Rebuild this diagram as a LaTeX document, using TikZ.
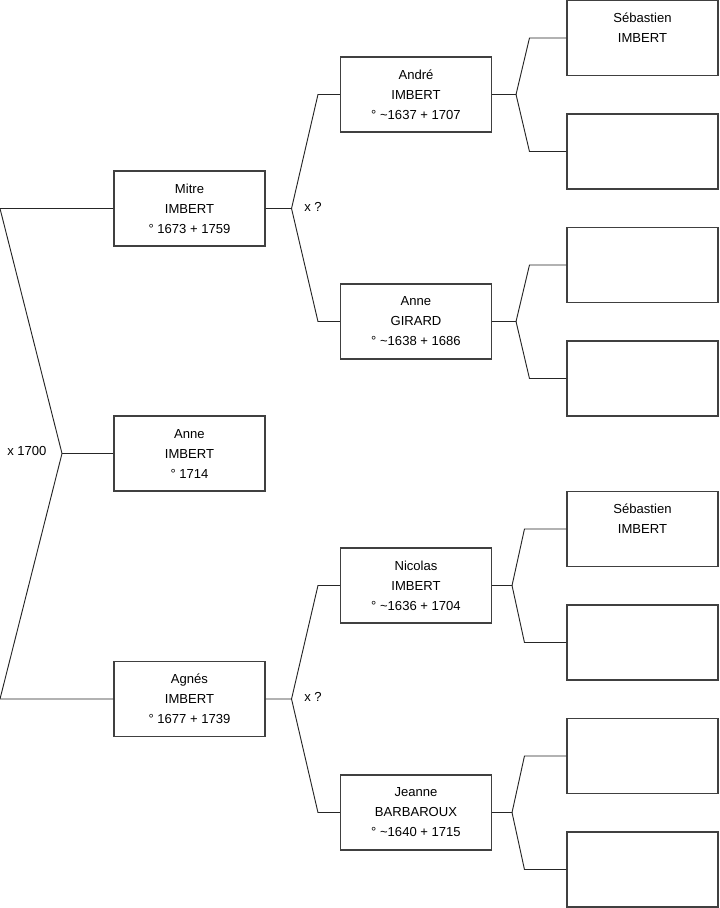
\documentclass[tikz,border=0pt]{standalone}
\usepackage{fontspec}
\setmainfont{Liberation Sans}
\usetikzlibrary{calc}
\begin{document}
\begin{tikzpicture}[x=0.75pt,y=-0.75pt,
  person/.style={draw=black!75,line width=0.8pt,minimum width=113.25pt,minimum height=56.25pt,
    inner sep=0pt,align=center,font=\fontsize{9.8}{15}\selectfont,text=black},
  link/.style={draw=black!85,line width=0.7pt},
  lab/.style={font=\fontsize{9.8}{11}\selectfont,text=black,inner sep=0pt,anchor=west}]
\useasboundingbox (0,0) rectangle (719,908);
% generation 1
\node[person] (mitre) at (189.5,208.5) {Mitre\\IMBERT\\° 1673 + 1759};
\node[person] (anne) at (189.5,453.5) {Anne\\IMBERT\\° 1714};
\node[person] (agnes) at (189.5,699) {Agnés\\IMBERT\\° 1677 + 1739};
% generation 2
\node[person] (andre) at (416,94.5) {André\\IMBERT\\° \textasciitilde1637 + 1707};
\node[person] (girard) at (416,321.5) {Anne\\GIRARD\\° \textasciitilde1638 + 1686};
\node[person] (nicolas) at (416,585.5) {Nicolas\\IMBERT\\° \textasciitilde1636 + 1704};
\node[person] (jeanne) at (416,812.5) {Jeanne\\BARBAROUX\\° \textasciitilde1640 + 1715};
% generation 3
\node[person] (g1) at (642.5,38) {Sébastien\\IMBERT\\\mbox{}};
\node[person] (g2) at (642.5,151.5) {};
\node[person] (g3) at (642.5,265) {};
\node[person] (g4) at (642.5,378.5) {};
\node[person] (g5) at (642.5,529) {Sébastien\\IMBERT\\\mbox{}};
\node[person] (g6) at (642.5,642.5) {};
\node[person] (g7) at (642.5,756) {};
\node[person] (g8) at (642.5,869.5) {};
% labels
\node[lab] (m0) at (7,451) {x 1700};
\node[lab] (m1) at (304,207) {x ?};
\node[lab] (m2) at (304,697) {x ?};
% left fork
\coordinate (f0) at (62,453.5);
\coordinate (l1) at (0,208.5);
\coordinate (l2) at (0,699);
\draw[link] (mitre.west) -- (l1) -- (f0) -- (l2) -- (agnes.west);
\draw[link] (f0) -- (anne.west);
% second level forks
\coordinate (f1) at ($(mitre.east)+(26,0)$);
\draw[link] (mitre.east) -- (f1) -- ($(andre.west)+(-22,0)$) -- (andre.west);
\draw[link] (f1) -- ($(girard.west)+(-22,0)$) -- (girard.west);
\coordinate (f2) at ($(agnes.east)+(26,0)$);
\draw[link] (agnes.east) -- (f2) -- ($(nicolas.west)+(-22,0)$) -- (nicolas.west);
\draw[link] (f2) -- ($(jeanne.west)+(-22,0)$) -- (jeanne.west);
% third level forks
\coordinate (f3) at ($(andre.east)+(24,0)$);
\draw[link] (andre.east) -- (f3) -- ($(g1.west)+(-37,0)$) -- (g1.west);
\draw[link] (f3) -- ($(g2.west)+(-37,0)$) -- (g2.west);
\coordinate (f4) at ($(girard.east)+(24,0)$);
\draw[link] (girard.east) -- (f4) -- ($(g3.west)+(-37,0)$) -- (g3.west);
\draw[link] (f4) -- ($(g4.west)+(-37,0)$) -- (g4.west);
\coordinate (f5) at ($(nicolas.east)+(20,0)$);
\draw[link] (nicolas.east) -- (f5) -- ($(g5.west)+(-42,0)$) -- (g5.west);
\draw[link] (f5) -- ($(g6.west)+(-42,0)$) -- (g6.west);
\coordinate (f6) at ($(jeanne.east)+(20,0)$);
\draw[link] (jeanne.east) -- (f6) -- ($(g7.west)+(-42,0)$) -- (g7.west);
\draw[link] (f6) -- ($(g8.west)+(-42,0)$) -- (g8.west);
\end{tikzpicture}
\end{document}
